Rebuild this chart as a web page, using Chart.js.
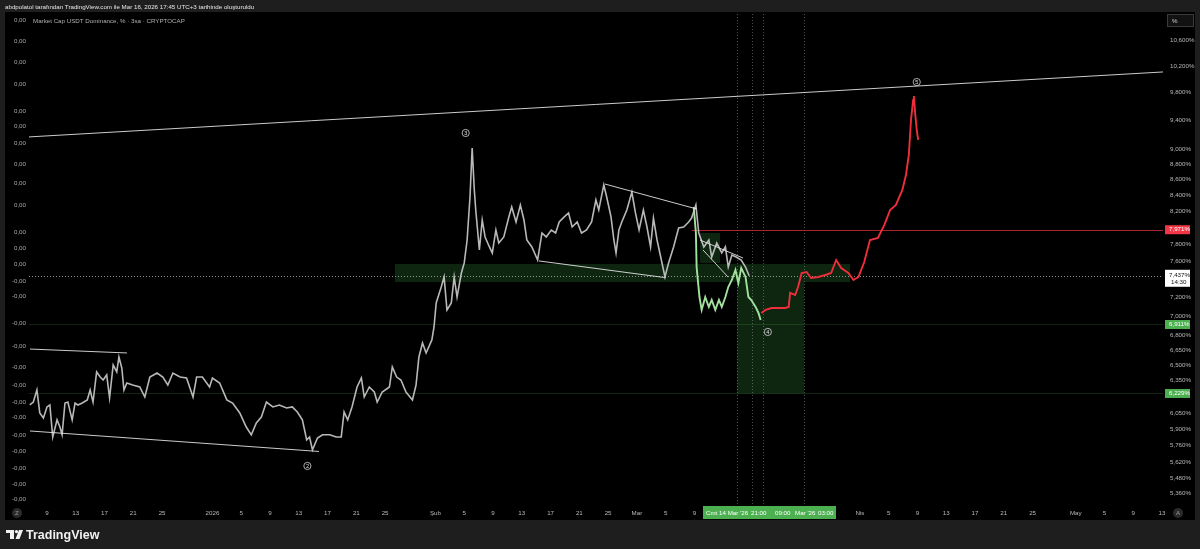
<!DOCTYPE html>
<html>
<head>
<meta charset="utf-8">
<script src="https://cdn.jsdelivr.net/npm/chart.js@4.4.1/dist/chart.umd.min.js"></script>
<style>
  html, body { margin: 0; padding: 0; background: #1e1e1e; overflow: hidden; }
  canvas { display: block; }
</style>
</head>
<body>
<canvas id="chart" width="1200" height="549"></canvas>
<script>
// USDT dominance, 3h bars: [day since 1 Dec 2025, percent]
const grayPath = [
  [5.6,6.122],[6.1,6.149],[6.6,6.262],[7.0,6.049],[7.5,6.003],[8.0,6.104],[8.4,6.122],[8.8,5.834],
  [9.4,5.986],[9.8,5.922],[10.1,5.853],[10.5,6.140],[10.9,6.149],[11.5,5.986],[11.9,6.140],[12.3,6.122],
  [12.9,6.140],[13.6,6.169],[14.0,6.262],[14.4,6.149],[14.9,6.434],[15.4,6.385],[15.8,6.357],[16.3,6.405],
  [16.7,6.187],[17.2,6.502],[17.7,6.434],[18.0,6.581],[18.4,6.473],[18.7,6.262],[19.1,6.328],[19.9,6.309],
  [20.9,6.290],[21.6,6.196],[22.3,6.385],[23.3,6.424],[24.1,6.385],[24.8,6.309],[25.5,6.424],[26.5,6.385],
  [27.4,6.376],[28.3,6.196],[28.8,6.385],[29.6,6.385],[30.6,6.290],[31.0,6.376],[32.0,6.328],[33.0,6.169],
  [33.8,6.140],[34.8,6.049],[35.7,5.922],[36.4,5.853],[37.1,5.958],[37.8,6.012],[38.5,6.149],[39.4,6.104],
  [40.3,6.122],[41.3,6.094],[42.1,6.104],[42.8,6.058],[43.5,5.986],[44.1,5.809],[44.5,5.834],[44.9,5.722],
  [45.6,5.825],[46.3,5.853],[47.3,5.853],[48.2,5.834],[48.9,5.834],[49.3,6.058],[49.8,5.986],[50.4,6.104],
  [51.1,6.290],[51.7,6.376],[52.1,6.196],[52.8,6.290],[53.5,6.243],[53.9,6.149],[54.6,6.243],[55.6,6.290],
  [56.0,6.483],[56.6,6.385],[57.2,6.357],[57.9,6.243],[58.8,6.169],[59.3,6.309],[59.7,6.581],[60.2,6.721],
  [60.7,6.621],[61.5,6.752],[61.8,6.885],[62.1,7.139],[62.8,7.312],[63.2,7.424],[63.6,7.064],[64.2,7.139],
  [64.6,7.424],[65.0,7.203],[65.6,7.468],[66.0,7.582],[66.4,7.849],[66.8,8.374],[67.1,9.015],[67.4,8.463],
  [67.6,8.212],[68.1,7.732],[68.5,8.089],[68.9,7.885],[69.5,7.767],[69.9,7.697],[70.4,7.968],[70.8,7.813],
  [71.5,7.885],[72.2,8.126],[72.6,8.249],[73.2,8.065],[73.8,8.274],[74.3,8.089],[74.7,7.849],[75.4,7.767],
  [76.2,7.616],[76.8,7.932],[77.4,7.885],[78.1,7.968],[78.7,7.932],[79.2,8.065],[79.9,8.126],[80.5,8.175],
  [81.0,8.004],[81.7,8.065],[82.3,7.932],[83.0,7.968],[83.7,8.065],[84.3,8.336],[84.7,8.212],[85.4,8.527],
  [85.8,8.374],[86.4,8.126],[86.8,7.849],[87.1,7.697],[87.5,7.968],[87.9,8.065],[88.6,8.212],[89.3,8.437],
  [89.8,8.175],[90.3,7.968],[90.9,8.212],[91.4,8.004],[91.9,7.767],[92.3,8.113],[92.8,7.849],[93.4,7.616],
  [93.9,7.424],[94.4,7.582],[95.1,7.767],[95.8,7.992],[96.5,8.004],[97.2,8.065],[97.6,8.113],[98.2,8.274],
  [98.6,7.932],[99.3,7.767],[100.0,7.849],[100.4,7.650],[101.1,7.813],[101.8,7.697],[102.3,7.767],[102.7,7.536],
  [103.2,7.673],[103.8,7.650],[104.5,7.616],[105.1,7.536],[105.6,7.437]
];
// bars-pattern copy (green) and projection (red)
const greenPath = [
  [97.9,8.249],[98.2,7.932],[98.3,7.536],[98.7,7.203],[99.0,7.064],[99.5,7.203],[100.0,7.096],[100.4,7.171],
  [100.9,7.064],[101.4,7.171],[101.8,7.096],[102.3,7.203],[102.7,7.312],[103.2,7.390],[103.7,7.502],[104.1,7.357],
  [104.5,7.525],[105.1,7.424],[105.5,7.203],[105.9,7.171],[106.5,7.096],[106.9,7.032],[107.2,6.958]
];
const redPath = [
  [107.3,7.032],[107.9,7.064],[108.7,7.085],[109.7,7.085],[110.6,7.085],[111.1,7.096],[111.3,7.247],[112.0,7.225],
  [112.4,7.312],[112.9,7.468],[113.6,7.480],[114.2,7.412],[115.2,7.424],[116.2,7.446],[117.0,7.468],[117.7,7.616],
  [118.4,7.525],[119.4,7.468],[120.1,7.390],[120.8,7.424],[121.6,7.593],[122.4,7.849],[123.5,7.873],[124.4,8.029],
  [125.2,8.212],[126.0,8.274],[126.9,8.463],[127.4,8.656],[127.8,8.921],[128.1,9.404],[128.4,9.690],[128.5,9.750],
  [128.7,9.474],[128.9,9.263],[129.1,9.125]
];

// axes
const rightTicks = [10.6, 10.2, 9.8, 9.4, 9.0, 8.8, 8.6, 8.4, 8.2, 7.8, 7.6, 7.2, 7.0, 6.8, 6.65, 6.5, 6.35, 6.05, 5.9, 5.76, 5.62, 5.48, 5.36];
const leftTicks = [0.00254, 0.00233, 0.00212, 0.00190, 0.00163, 0.00148, 0.00131, 0.00110, 0.00091, 0.00069, 0.00042, 0.00026, 0.00010,
  -0.00007, -0.00022, -0.00049, -0.00072, -0.00093, -0.00111, -0.00127, -0.00142, -0.00160, -0.00176, -0.00193, -0.00209, -0.00224];
const tickDays = [8, 12, 16, 20, 24, 31, 35, 39, 43, 47, 51, 55, 62, 66, 70, 74, 78, 82, 86, 90, 94, 98,
  121, 125, 129, 133, 137, 141, 145, 151, 155, 159, 163];
const tickLabels = ['9', '13', '17', '21', '25', '2026', '5', '9', '13', '17', '21', '25', 'Şub', '5', '9', '13', '17', '21', '25', 'Mar', '5', '9',
  'Nis', '5', '9', '13', '17', '21', '25', 'May', '5', '9', '13'];

// levels on the price scale
const redLevel = 7.971;
const lastPrice = 7.437;
const greenLevels = [6.911, 6.229];

// drawings: [[day, pct], [day, pct]]
const rayLine = [[5.36, 9.166], [163.13, 10.109]];
const trendLines = [
  [[5.64, 6.660], [19.12, 6.621]],
  [[5.64, 5.887], [45.81, 5.708]],
  [[85.56, 8.539], [98.31, 8.224]],
  [[76.39, 7.605], [94.0, 7.416]],
  [[98.77, 7.849], [104.75, 7.639]],
  [[99.19, 7.732], [102.66, 7.424]]
];
// [dayFrom, dayTo, pctLow, pctHigh]
const zones = [
  [56.37, 119.62, 7.368, 7.570],
  [103.91, 113.23, 6.229, 7.368],
  [98.77, 101.55, 7.582, 7.932]
];
const markerDays = [103.9, 106.0, 107.5, 113.2];
const waveLabels = ['2', '3', '4', '5'];
const waveDays = [44.2, 66.2, 108.2, 128.9];
const waveValues = [5.585, 9.221, 6.834, 9.957];

const FONT = "'Liberation Sans', Arial, sans-serif";
const fmtPct = v => v.toFixed(3).replace('.', ',') + '%';
const toPts = arr => arr.map(([d, v]) => ({ x: d, y: v }));

function segment(ctx, x, y, p0, p1) {
  ctx.beginPath();
  ctx.moveTo(x.getPixelForValue(p0[0]), y.getPixelForValue(p0[1]));
  ctx.lineTo(x.getPixelForValue(p1[0]), y.getPixelForValue(p1[1]));
  ctx.stroke();
}

const frame = {
  id: 'frame',
  beforeDraw(chart) {
    const { ctx, chartArea: a, scales: { x, y } } = chart;
    ctx.save();
    ctx.fillStyle = '#1e1e1e';
    ctx.fillRect(0, 0, 1200, 549);
    ctx.fillStyle = '#000000';
    ctx.fillRect(5, 12, 1190, 508);

    // zones
    ctx.fillStyle = 'rgba(56,142,60,0.26)';
    zones.forEach(([d0, d1, lo, hi]) => {
      const x0 = x.getPixelForValue(d0), x1 = x.getPixelForValue(d1);
      const y0 = y.getPixelForValue(hi), y1 = y.getPixelForValue(lo);
      ctx.fillRect(x0, y0, x1 - x0, y1 - y0);
    });

    // faint level lines
    ctx.lineWidth = 1;
    ctx.strokeStyle = 'rgba(76,175,80,0.22)';
    greenLevels.forEach(v => {
      const py = Math.round(y.getPixelForValue(v)) + 0.5;
      ctx.beginPath(); ctx.moveTo(a.left, py); ctx.lineTo(a.right, py); ctx.stroke();
    });

    // vertical dotted markers
    ctx.strokeStyle = 'rgba(170,170,170,0.45)';
    ctx.setLineDash([1, 2]);
    markerDays.forEach(d => {
      const px = Math.round(x.getPixelForValue(d)) + 0.5;
      ctx.beginPath(); ctx.moveTo(px, a.top); ctx.lineTo(px, a.bottom); ctx.stroke();
    });

    // last price dotted line
    ctx.strokeStyle = 'rgba(200,200,200,0.7)';
    const lp = Math.round(y.getPixelForValue(lastPrice)) + 0.5;
    ctx.beginPath(); ctx.moveTo(a.left, lp); ctx.lineTo(a.right, lp); ctx.stroke();
    ctx.setLineDash([]);

    // red level
    ctx.strokeStyle = 'rgba(200,40,50,0.85)';
    const rp = Math.round(y.getPixelForValue(redLevel)) + 0.5;
    ctx.beginPath(); ctx.moveTo(x.getPixelForValue(97.6), rp); ctx.lineTo(a.right, rp); ctx.stroke();
    ctx.restore();
  },
  afterDatasetsDraw(chart) {
    const { ctx, chartArea: a, scales: { x, y, yL } } = chart;
    ctx.save();

    // drawings
    ctx.beginPath();
    ctx.rect(a.left, a.top, a.right - a.left, a.bottom - a.top);
    ctx.clip();
    ctx.strokeStyle = 'rgba(225,225,225,0.9)';
    ctx.lineWidth = 1;
    segment(ctx, x, y, rayLine[0], rayLine[1]);
    trendLines.forEach(([p0, p1]) => segment(ctx, x, y, p0, p1));

    // wave counts
    ctx.font = '5.5px ' + FONT;
    ctx.textAlign = 'center';
    ctx.textBaseline = 'middle';
    waveLabels.forEach((n, i) => {
      const px = x.getPixelForValue(waveDays[i]), py = y.getPixelForValue(waveValues[i]);
      ctx.beginPath(); ctx.arc(px, py, 3.6, 0, Math.PI * 2);
      ctx.strokeStyle = '#d8d8d8'; ctx.lineWidth = 0.8; ctx.stroke();
      ctx.fillStyle = '#e0e0e0';
      ctx.fillText(n, px, py + 0.3);
    });
    ctx.restore();

    ctx.save();
    ctx.font = '6.2px ' + FONT;
    ctx.textBaseline = 'middle';

    // right price scale
    ctx.fillStyle = '#b8b8b8';
    ctx.textAlign = 'left';
    rightTicks.forEach(v => ctx.fillText(fmtPct(v), 1170, y.getPixelForValue(v)));

    const tag = (v, bg, fg) => {
      const py = y.getPixelForValue(v);
      ctx.fillStyle = bg;
      ctx.fillRect(1165, py - 4.5, 25, 9);
      ctx.fillStyle = fg;
      ctx.fillText(fmtPct(v), 1169, py);
    };
    tag(redLevel, '#f23645', '#ffffff');
    greenLevels.forEach(v => tag(v, '#4caf50', '#ffffff'));
    const lpy = y.getPixelForValue(lastPrice);
    ctx.fillStyle = '#ffffff';
    ctx.fillRect(1165, lpy - 6, 25, 17);
    ctx.fillStyle = '#111111';
    ctx.fillText(fmtPct(lastPrice), 1169, lpy);
    ctx.fillText('14:30', 1171, lpy + 7);

    // % box
    ctx.strokeStyle = '#3a3a3a'; ctx.lineWidth = 1;
    ctx.fillStyle = '#121212';
    ctx.fillRect(1167.5, 14.5, 26, 12); ctx.strokeRect(1167.5, 14.5, 26, 12);
    ctx.fillStyle = '#cfcfcf';
    ctx.fillText('%', 1172, 21);

    // left overlay scale
    ctx.textAlign = 'right';
    ctx.fillStyle = '#a8a8a8';
    leftTicks.forEach(v => ctx.fillText(v.toFixed(2).replace('.', ','), 26, yL.getPixelForValue(v)));

    // time scale
    ctx.textAlign = 'center';
    ctx.fillStyle = '#b8b8b8';
    tickDays.forEach((d, i) => ctx.fillText(tickLabels[i], x.getPixelForValue(d), 513));

    // crosshair date label
    ctx.fillStyle = '#4caf50';
    ctx.fillRect(703, 506, 133, 13);
    ctx.fillStyle = '#ffffff';
    ctx.textAlign = 'left';
    ctx.fillText("Cmt 14 Mar '26", 706, 513);
    ctx.fillText('21:00', 751, 513);
    ctx.fillText('09:00', 775, 513);
    ctx.fillText("Mar '26", 795, 513);
    ctx.fillText('03:00', 818, 513);

    // corner buttons
    [17, 1178].forEach(cx => {
      ctx.beginPath(); ctx.arc(cx, 513, 5, 0, Math.PI * 2);
      ctx.fillStyle = '#2a2a2a'; ctx.fill();
    });
    ctx.fillStyle = '#9a9a9a';
    ctx.textAlign = 'center';
    ctx.fillText('Z', 17, 513);
    ctx.fillText('A', 1178, 513);

    // titles
    ctx.textAlign = 'left';
    ctx.fillStyle = '#e6e6e6';
    ctx.fillText('abdpolatol tarafından TradingView.com ile Mar 16, 2026 17:45 UTC+3 tarihinde oluşturuldu', 5, 7);
    ctx.fillStyle = '#b0b0b0';
    ctx.fillText('Market Cap USDT Dominance, % · 3sa · CRYPTOCAP', 33, 21);

    // footer logo
    ctx.fillStyle = '#f0f0f0';
    ctx.fillRect(6, 530, 8, 3);
    ctx.fillRect(10, 530, 4, 9);
    ctx.beginPath(); ctx.arc(16.5, 531.6, 1.7, 0, Math.PI * 2); ctx.fill();
    ctx.beginPath();
    ctx.moveTo(19, 530); ctx.lineTo(23, 530); ctx.lineTo(19.5, 539); ctx.lineTo(15.5, 539);
    ctx.closePath(); ctx.fill();
    ctx.font = 'bold 12.5px ' + FONT;
    ctx.textBaseline = 'alphabetic';
    ctx.fillText('TradingView', 26, 539);
    ctx.restore();
  }
};

const series = (data, color, width) => ({
  data: toPts(data),
  borderColor: color,
  borderWidth: width,
  pointRadius: 0,
  tension: 0,
  fill: false
});

new Chart(document.getElementById('chart'), {
  type: 'line',
  data: {
    datasets: [
      series(grayPath, 'rgba(200,200,200,0.92)', 1.6),
      series(greenPath, '#a3e29e', 1.9),
      series(redPath, '#ee2f3b', 1.9)
    ]
  },
  options: {
    responsive: false,
    animation: false,
    events: [],
    layout: { padding: { left: 29, right: 37, top: 14, bottom: 44 } },
    plugins: { legend: { display: false }, tooltip: { enabled: false } },
    scales: {
      x: { type: 'linear', min: 5.5, max: 163.13, display: false },
      y: { type: 'logarithmic', min: 5.266, max: 11.031, display: false },
      yL: { type: 'linear', min: -0.0023, max: 0.0026, display: false }
    }
  },
  plugins: [frame]
});
</script>
</body>
</html>
